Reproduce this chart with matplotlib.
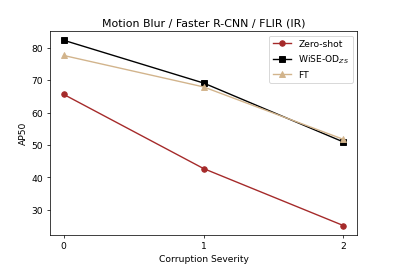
import matplotlib
matplotlib.use('Agg')
import matplotlib.pyplot as plt

severity = [0, 1, 2]
zero_shot = [65.6, 42.7, 25.1]
wise_od = [82.3, 69.1, 50.9]
ft = [77.6, 67.9, 51.7]

fig, ax = plt.subplots(figsize=(6, 4))
ax.plot(severity, zero_shot, marker='o', color='brown', label='Zero-shot')
ax.plot(severity, wise_od, marker='s', color='black', label='WiSE-OD$_{ZS}$')
ax.plot(severity, ft, marker='^', color='tan', label='FT')

ax.set_xticks(severity)
ax.set_title('Motion Blur / Faster R-CNN / FLIR (IR)')
ax.set_xlabel('Corruption Severity')
ax.set_ylabel('AP50')
ax.legend(loc='upper right')

fig.savefig('out.png', dpi=66.2)
